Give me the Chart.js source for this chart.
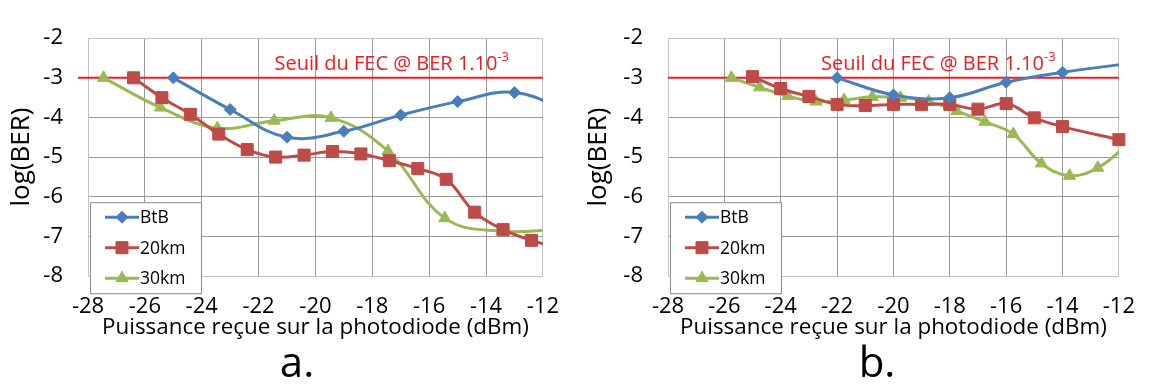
<!DOCTYPE html>
<html>
<head>
<meta charset="utf-8">
<script src="https://cdn.jsdelivr.net/npm/chart.js@4.4.0/dist/chart.umd.min.js"></script>
<style>
  body { margin: 0; background: #fff; width: 1153px; height: 385px; overflow: hidden; position: relative; font-family: 'Open Sans', sans-serif; }
  .box { position: absolute; top: 0; height: 385px; }
  .cap { position: absolute; top: 340px; font-size: 42px; line-height: 42px; width: 100px; text-align: center; color: #000; }
</style>
</head>
<body>
<div class="box" style="left:0;width:577px"><canvas id="chartA" width="577" height="385"></canvas></div>
<div class="box" style="left:577px;width:576px"><canvas id="chartB" width="576" height="385"></canvas></div>
<div class="cap" style="left:247px">a.</div>
<div class="cap" style="left:827px">b.</div>
<script>
// ---- data (x = dBm, y = log(BER)) ----
// chart a.
const btbA_x = [-25, -23, -21, -19, -17, -15, -13, -11];
const btbA_y = [-3.0, -3.8, -4.5, -4.35, -3.94, -3.6, -3.37, -3.88];
const km20A_x = [-26.4, -25.4, -24.4, -23.4, -22.4, -21.4, -20.4, -19.4, -18.4, -17.4, -16.4, -15.4, -14.4, -13.4, -12.4, -11.4];
const km20A_y = [-3.0, -3.5, -3.92, -4.42, -4.81, -5.0, -4.95, -4.86, -4.92, -5.09, -5.29, -5.56, -6.39, -6.83, -7.1, -7.3];
const km30A_x = [-27.45, -25.45, -23.45, -21.45, -19.45, -17.45, -15.45, -13.45, -11.45];
const km30A_y = [-3.0, -3.75, -4.27, -4.08, -4.01, -4.85, -6.54, -6.87, -6.82];
// chart b.
const btbB_x = [-22, -20, -18, -16, -14, -11];
const btbB_y = [-3.0, -3.43, -3.5, -3.11, -2.86, -2.58];
const km20B_x = [-25, -24, -23, -22, -21, -20, -19, -18, -17, -16, -15, -14, -12];
const km20B_y = [-2.97, -3.27, -3.47, -3.67, -3.7, -3.67, -3.67, -3.67, -3.79, -3.65, -4.01, -4.23, -4.56];
const km30B_x = [-25.75, -24.75, -23.75, -22.75, -21.75, -20.75, -19.75, -18.75, -17.75, -16.75, -15.75, -14.75, -13.75, -12.75, -11.75];
const km30B_y = [-3.0, -3.24, -3.46, -3.6, -3.56, -3.48, -3.5, -3.6, -3.84, -4.11, -4.42, -5.16, -5.47, -5.27, -4.72];
// FEC threshold
const seuilA_x = [-28.35, -12];
const seuilB_x = [-28, -12];
const seuilY = -3;

const xTicks = [-28, -26, -24, -22, -20, -18, -16, -14, -12];
const yTicks = [-8, -7, -6, -5, -4, -3, -2];
const seriesNames = ['BtB', '20km', '30km'];

const blue = '#4a7ebb', red = '#be4b48', green = '#98b954', fecRed = '#ec1c24';
const FONT = "'Open Sans', sans-serif";

function pts(xs, ys) { return xs.map((x, i) => ({ x: x, y: ys[i] })); }

function series(label, data, color, style, radius, clipRight) {
  return {
    label: label, data: data,
    borderColor: color, backgroundColor: color,
    borderWidth: 3, tension: 0.4,
    pointStyle: style, pointRadius: radius, pointHoverRadius: radius,
    pointBorderWidth: 1,
    clip: { left: 0, top: 0, bottom: 0, right: clipRight }
  };
}

// legend box drawn inside the plot (bottom-left)
const boxLegend = {
  id: 'boxLegend',
  afterDraw(chart) {
    const { ctx, chartArea } = chart;
    const x0 = chartArea.left + 2, y0 = chartArea.top + 164, w = 111, h = 91;
    ctx.save();
    ctx.fillStyle = '#fff';
    ctx.fillRect(x0, y0, w, h);
    ctx.strokeStyle = '#8c8c8c';
    ctx.lineWidth = 1;
    ctx.strokeRect(x0 + 0.5, y0 + 0.5, w, h);
    chart.data.datasets.filter(d => seriesNames.includes(d.label)).forEach((d, i) => {
      const cy = y0 + 15 + i * 30.5;
      ctx.strokeStyle = d.borderColor;
      ctx.lineWidth = 3;
      ctx.beginPath();
      ctx.moveTo(x0 + 15, cy);
      ctx.lineTo(x0 + 49, cy);
      ctx.stroke();
      ctx.fillStyle = d.backgroundColor;
      ctx.lineWidth = 1;
      Chart.helpers.drawPoint(ctx, { pointStyle: d.pointStyle, radius: d.pointRadius, rotation: 0, borderWidth: 1 }, x0 + 32, cy);
      ctx.fillStyle = '#000';
      ctx.font = '17.5px ' + FONT;
      ctx.textBaseline = 'middle';
      ctx.fillText(d.label, x0 + 50, cy + 1);
    });
    ctx.restore();
  }
};

// "Seuil du FEC @ BER 1.10-3" label
const seuilLabel = {
  id: 'seuilLabel',
  afterDatasetsDraw(chart, args, opts) {
    const { ctx, scales } = chart;
    const px = scales.x.getPixelForValue(opts.x);
    const py = scales.y.getPixelForValue(opts.y);
    ctx.save();
    ctx.fillStyle = fecRed;
    ctx.textBaseline = 'alphabetic';
    ctx.font = '20px ' + FONT;
    const main = 'Seuil du FEC @ BER 1.10';
    ctx.fillText(main, px, py);
    const w = ctx.measureText(main).width;
    ctx.font = '13px ' + FONT;
    ctx.fillText('-3', px + w, py - 9);
    ctx.restore();
  }
};

function makeChart(id, d) {
  const gridColor = c => (c.index === 0 || c.index === c.scale.ticks.length - 1) ? '#c4c4c4' : '#9a9a9a';
  return new Chart(document.getElementById(id), {
    type: 'line',
    data: {
      datasets: [
        series('BtB', d.btb, blue, 'rectRot', 6, 0),
        series('20km', d.km20, red, 'rect', 8.5, d.clip20),
        series('30km', d.km30, green, 'triangle', 7, 0),
        { label: 'seuil', data: d.seuil, borderColor: fecRed, borderWidth: 2, pointRadius: 0, clip: false }
      ]
    },
    options: {
      responsive: false,
      animation: false,
      devicePixelRatio: 1,
      events: [],
      layout: { padding: { left: 0, right: d.padRight, top: 17, bottom: 44 } },
      plugins: {
        legend: { display: false },
        tooltip: { enabled: false },
        seuilLabel: { x: d.seuilTextX, y: -2.81 }
      },
      scales: {
        x: {
          type: 'linear', min: -28, max: -12,
          afterBuildTicks: s => { s.ticks = xTicks.map(v => ({ value: v })); },
          afterFit: s => { s.height = 65; },
          grid: { color: gridColor, drawTicks: false, lineWidth: 1 },
          border: { color: '#c4c4c4' },
          ticks: { color: '#000', padding: 18, font: { family: FONT, size: 22 } },
          title: { display: true, text: 'Puissance reçue sur la photodiode (dBm)', color: '#000', padding: 0, font: { family: FONT, size: 22.4 } }
        },
        y: {
          type: 'linear', min: -8, max: -2,
          afterBuildTicks: s => { s.ticks = yTicks.map(v => ({ value: v })); },
          afterFit: s => { s.width = d.yWidth; },
          grid: { color: gridColor, drawTicks: false, lineWidth: 1 },
          border: { color: '#c4c4c4' },
          ticks: { color: '#000', padding: 25, font: { family: FONT, size: 22 } },
          title: { display: true, text: 'log(BER)', color: '#000', padding: { top: 6, bottom: 0 }, font: { family: FONT, size: 26 } }
        }
      }
    },
    plugins: [seuilLabel, boxLegend]
  });
}

makeChart('chartA', {
  btb: pts(btbA_x, btbA_y), km20: pts(km20A_x, km20A_y), km30: pts(km30A_x, km30A_y),
  seuil: pts(seuilA_x, seuilA_x.map(() => seuilY)),
  clip20: 0, padRight: 28, yWidth: 88, seuilTextX: -21.44
});
makeChart('chartB', {
  btb: pts(btbB_x, btbB_y), km20: pts(km20B_x, km20B_y), km30: pts(km30B_x, km30B_y),
  seuil: pts(seuilB_x, seuilB_x.map(() => seuilY)),
  clip20: 12, padRight: 21, yWidth: 91, seuilTextX: -22.57
});
</script>
</body>
</html>
